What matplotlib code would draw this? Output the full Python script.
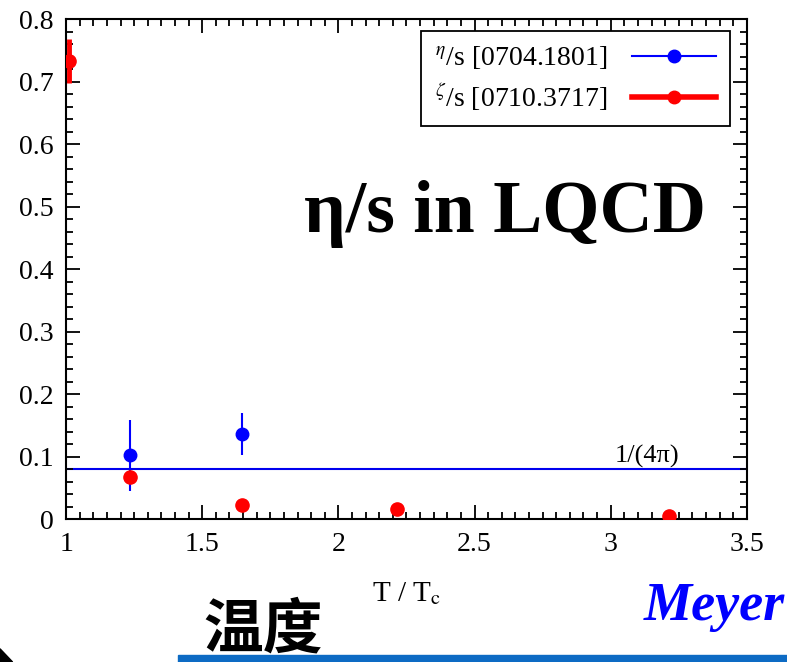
import matplotlib
matplotlib.use("Agg")
import matplotlib.pyplot as plt
from matplotlib.lines import Line2D
from matplotlib.patches import Rectangle, Polygon
from matplotlib.ticker import MultipleLocator
import numpy as np

plt.rcParams['font.family'] = ['Liberation Serif', 'DejaVu Serif']
plt.rcParams['mathtext.fontset'] = 'stix'

# eta/s data [0704.1801]
eta_T = [1.235, 1.645]
eta_val = [0.102, 0.136]
eta_err = [0.057, 0.034]

# zeta/s data [0710.3717]
zeta_T = [1.01, 1.235, 1.645, 2.215, 3.215]
zeta_val = [0.733, 0.068, 0.023, 0.016, 0.005]
zeta_err = [0.035, 0.0, 0.0, 0.0, 0.0]

kss = 1 / (4 * np.pi)

xticks = [1, 1.5, 2, 2.5, 3, 3.5]
xticklabels = ['1', '1.5', '2', '2.5', '3', '3.5']
yticks = [0, 0.1, 0.2, 0.3, 0.4, 0.5, 0.6, 0.7, 0.8]
yticklabels = ['0', '0.1', '0.2', '0.3', '0.4', '0.5', '0.6', '0.7', '0.8']

fig = plt.figure(figsize=(7.87, 6.62), dpi=100)
ax = fig.add_axes([0.084, 0.216, 0.865, 0.755])

ax.axhline(kss, color='#0000ee', lw=1.5, zorder=1)
ax.errorbar(eta_T, eta_val, yerr=eta_err, fmt='o', color='#0000ff', ms=9,
            elinewidth=1.5, capsize=0, zorder=3)
ax.errorbar(zeta_T, zeta_val, yerr=zeta_err, fmt='o', color='#ff0000', ms=9.5,
            elinewidth=3.5, capsize=0, zorder=4)
ax.text(3.135, kss + 0.002, '1/(4π)', fontsize=19, ha='center', va='bottom')

ax.set_xlim(1, 3.5)
ax.set_ylim(0, 0.8)
ax.set_xticks(xticks)
ax.set_xticklabels(xticklabels)
ax.set_yticks(yticks)
ax.set_yticklabels(yticklabels)
ax.xaxis.set_minor_locator(MultipleLocator(0.05))
ax.yaxis.set_minor_locator(MultipleLocator(0.02))
ax.tick_params(which='both', direction='in', top=True, right=True, labelsize=20, width=1.3)
ax.tick_params(which='major', length=10, pad=9)
ax.tick_params(which='minor', length=5)
for s in ax.spines.values():
    s.set_linewidth(1.5)
ax.set_xlabel(r'T / T$_\mathrm{c}$', fontsize=21, labelpad=17)

handles = [Line2D([], [], color='#0000ff', lw=1.5, marker='o', ms=9),
           Line2D([], [], color='#ff0000', lw=4, marker='o', ms=9)]
labels = [r'$^{\eta}$/s [0704.1801]', r'$^{\zeta}$/s [0710.3717]']
leg = ax.legend(handles, labels, loc='upper right', bbox_to_anchor=(0.987, 0.994),
                markerfirst=False, fontsize=20, handlelength=3.0, handletextpad=0.9,
                fancybox=False, edgecolor='black', framealpha=1, borderpad=0.5,
                labelspacing=0.35, borderaxespad=0.3)
leg.get_frame().set_linewidth(1.3)

ax.text(0.94, 0.61, 'η/s in LQCD', transform=ax.transAxes, fontsize=53,
        fontweight='bold', ha='right', va='center')

fig.text(0.997, 0.083, 'Meyer', color='#0000ff', fontsize=39, fontweight='bold',
         fontstyle='italic', ha='right', va='center')
fig.text(0.258, 0.003, '温度', family=['Noto Sans CJK SC', 'DejaVu Sans'], fontsize=43,
         fontweight='bold', ha='left', va='bottom')
fig.patches.append(Rectangle((0.226, 0.0), 0.774, 0.011, transform=fig.transFigure,
                             color='#0d6bc4', zorder=0))
fig.patches.append(Polygon([(0, 0.02), (0.016, 0), (0, 0)], closed=True,
                           transform=fig.transFigure, color='black'))

fig.savefig('out.png', dpi=100)
